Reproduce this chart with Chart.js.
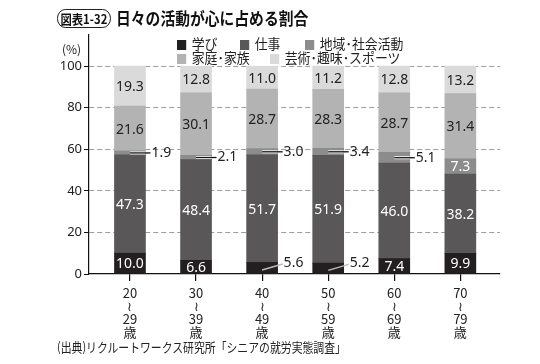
<!DOCTYPE html>
<html>
<head>
<meta charset="utf-8">
<script src="https://cdn.jsdelivr.net/npm/chart.js@4"></script>
<style>
  body { margin: 0; background: #fff; font-family: "Noto Sans CJK JP", sans-serif; }
  #wrap { position: relative; width: 540px; height: 364px; }
  #chart { position: absolute; left: 0; top: 0; }
  .title { position: absolute; left: 57px; top: 5px; font-size: 17px; font-weight: bold; color: #111; white-space: nowrap; transform: scaleX(0.87); transform-origin: 0 0; }
  .pill { display: inline-block; border: 1.5px solid #111; border-radius: 10px; font-size: 13px; line-height: 17px; padding: 0 3px; margin-right: 6px; vertical-align: 1px; }
  .legend { position: absolute; font-size: 14px; color: #222; white-space: nowrap; line-height: 14px; transform: scaleX(0.92); transform-origin: 0 0; }
  .legend span.box { display: inline-block; width: 10px; height: 10px; margin-right: 6px; vertical-align: -1px; }
  .pct { position: absolute; left: 62px; top: 40px; font-size: 12px; color: #222; }
  .source { position: absolute; left: 57px; top: 337px; font-size: 13px; color: #222; white-space: nowrap; transform: scaleX(0.835); transform-origin: 0 0; }
</style>
</head>
<body>
<div id="wrap">
  <canvas id="chart" width="540" height="364"></canvas>
  <div class="title"><span class="pill">図表1-32</span>日々の活動が心に占める割合</div>
  <div class="pct">(%)</div>
  <div id="legend"></div>
  <div class="source">(出典)リクルートワークス研究所「シニアの就労実態調査」</div>
</div>
<script>
const categories = [["20", "≀", "29", "歳"], ["30", "≀", "39", "歳"], ["40", "≀", "49", "歳"],
                    ["50", "≀", "59", "歳"], ["60", "≀", "69", "歳"], ["70", "≀", "79", "歳"]];
const seriesNames = ["学び", "仕事", "地域･社会活動", "家庭･家族", "芸術･趣味･スポーツ"];
const manabi   = [10.0, 6.6, 5.6, 5.2, 7.4, 9.9];
const shigoto  = [47.3, 48.4, 51.7, 51.9, 46.0, 38.2];
const chiiki   = [1.9, 2.1, 3.0, 3.4, 5.1, 7.3];
const katei    = [21.6, 30.1, 28.7, 28.3, 28.7, 31.4];
const geijutsu = [19.3, 12.8, 11.0, 11.2, 12.8, 13.2];
const yTicks = [0, 20, 40, 60, 80, 100];

const colors = ["#231f20", "#595757", "#8c8c8c", "#b3b3b3", "#dadada"];
const labelColors = ["#fff", "#fff", "#fff", "#222", "#222"];
const allSeries = [manabi, shigoto, chiiki, katei, geijutsu];

// legend (HTML)
const legendPos = [[177, 36], [240, 36], [305, 36], [177, 50], [270, 50]];
const legendEl = document.getElementById("legend");
seriesNames.forEach((name, i) => {
    const d = document.createElement("div");
    d.className = "legend";
    d.style.left = legendPos[i][0] + "px";
    d.style.top = legendPos[i][1] + "px";
    d.innerHTML = '<span class="box" style="background:' + colors[i] + '"></span>' + name;
    legendEl.appendChild(d);
});

const valueLabels = {
    id: "valueLabels",
    afterDatasetsDraw(chart) {
        const ctx = chart.ctx;
        ctx.save();
        ctx.font = "14px 'Noto Sans', sans-serif";
        ctx.textBaseline = "middle";
        chart.data.datasets.forEach((ds, di) => {
            const meta = chart.getDatasetMeta(di);
            meta.data.forEach((bar, i) => {
                const v = allSeries[di][i];
                const txt = v.toFixed(1);
                const midY = (bar.y + bar.base) / 2;
                const right = bar.x + bar.width / 2;
                if (v >= 6) {
                    ctx.textAlign = "center";
                    ctx.fillStyle = labelColors[di];
                    ctx.fillText(txt, bar.x, midY + 1);
                } else if (di === 0) {
                    // diagonal leader
                    ctx.strokeStyle = "#bbb";
                    ctx.lineWidth = 1.5;
                    ctx.beginPath();
                    ctx.moveTo(bar.x, midY + 2);
                    ctx.lineTo(right + 5, midY - 4);
                    ctx.stroke();
                    ctx.textAlign = "left";
                    ctx.fillStyle = "#222";
                    ctx.fillText(txt, right + 6, midY - 5);
                } else {
                    ctx.strokeStyle = "#fff";
                    ctx.lineWidth = 3;
                    ctx.beginPath();
                    ctx.moveTo(bar.x, midY);
                    ctx.lineTo(right, midY);
                    ctx.stroke();
                    ctx.strokeStyle = "#111";
                    ctx.lineWidth = 1.3;
                    ctx.beginPath();
                    ctx.moveTo(bar.x, midY);
                    ctx.lineTo(right + 5, midY);
                    ctx.stroke();
                    ctx.textAlign = "left";
                    ctx.fillStyle = "#222";
                    ctx.fillText(txt, right + 6, midY);
                }
            });
        });
        ctx.restore();
    }
};

const ctx = document.getElementById("chart").getContext("2d");
new Chart(ctx, {
    type: "bar",
    data: {
        datasets: allSeries.map((arr, i) => ({
            label: seriesNames[i],
            data: arr.map((v, j) => ({ x: j, y: v })),
            backgroundColor: colors[i],
            barThickness: 31,
            borderWidth: 0
        }))
    },
    options: {
        responsive: false,
        animation: false,
        layout: { padding: { left: 0, top: 35, right: 40, bottom: 0 } },
        plugins: { legend: { display: false }, tooltip: { enabled: false } },
        scales: {
            x: {
                type: "linear",
                stacked: true,
                offset: false,
                min: -0.62,
                max: 5.6,
                z: 1,
                afterBuildTicks: (s) => { s.ticks = categories.map((c, i) => ({ value: i })); },
                afterFit: (s) => { s.height = 90; },
                grid: { drawOnChartArea: false, offset: false, tickLength: 7, color: "#111", lineWidth: 1.2 },
                border: { color: "#111", width: 1.2 },
                ticks: {
                    autoSkip: false,
                    maxRotation: 0,
                    padding: 6,
                    color: "#222",
                    font: { family: "'Noto Sans CJK JP', sans-serif", size: 13, lineHeight: 1.0 },
                    callback: (v) => categories[v]
                }
            },
            y: {
                stacked: true,
                min: 0,
                max: 115,
                z: 1,
                afterBuildTicks: (s) => { s.ticks = yTicks.map(v => ({ value: v })); },
                afterFit: (s) => { s.width = 89; },
                grid: {
                    color: (c) => c.tick && c.tick.value === 0 ? "rgba(0,0,0,0)" : "rgba(140,140,140,0.85)",
                    lineWidth: 1,
                    tickLength: 5,
                    tickColor: "#111",
                    tickBorderDash: [1, 0]
                },
                border: { color: "#111", width: 1.2, dash: [5, 3] },
                ticks: {
                    padding: 2,
                    color: "#222",
                    font: { family: "'Noto Sans', sans-serif", size: 13 }
                }
            }
        }
    },
    plugins: [valueLabels]
});
</script>
</body>
</html>
